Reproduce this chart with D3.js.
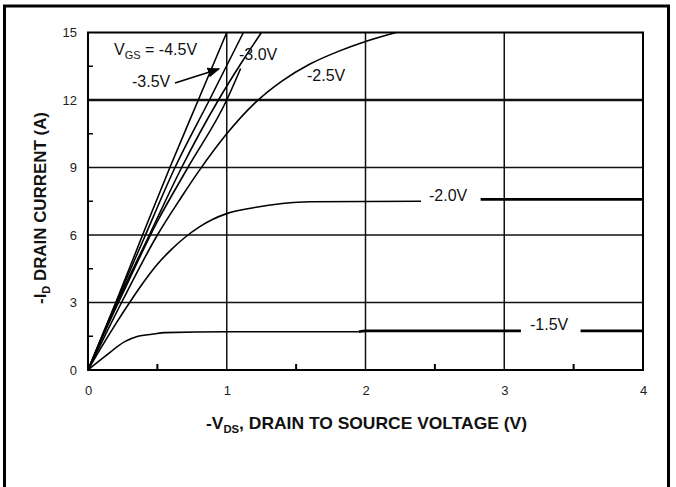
<!DOCTYPE html>
<html>
<head>
<meta charset="utf-8">
<script src="https://cdn.jsdelivr.net/npm/d3@7"></script>
<style>
  body { margin: 0; background: #fff; }
  svg { display: block; }
  .tick text { font-family: "Liberation Sans", Arial, sans-serif; font-size: 13px; fill: #222; }
  .lbl { font-family: "Liberation Sans", Arial, sans-serif; font-size: 16px; fill: #111; }
  .title { font-family: "Liberation Sans Narrow", "Arial Narrow", "Liberation Sans", sans-serif; font-weight: bold; font-size: 17px; fill: #111; }
</style>
</head>
<body>
<div id="chart"></div>
<script>
// data: -VDS (V) vs -ID (A), one array per gate voltage
const vgs45 = [[0,0],[0.1,1.5],[0.2,3.0],[0.4,6.1],[0.59,9],[0.795,12],[1.0,15]];
const vgs40 = [[0,0],[0.1,1.48],[0.2,2.95],[0.4,5.8],[0.627,9],[0.875,12],[1.12,15]];
const vgs35 = [[0,0],[0.1,1.45],[0.2,2.85],[0.45,6.1],[0.675,9],[0.94,12],[1.1,13.6],[1.25,15]];
const vgs30 = [[0,0],[0.1,1.4],[0.25,3.4],[0.5,6.6],[0.72,9],[1.0,12],[1.1,13.4]];
const vgs25 = [[0,0],[0.1,1.25],[0.25,3.1],[0.5,6.0],[0.675,7.7],[0.8,8.85],[1.0,10.5],[1.2,11.85],[1.4,12.85],[1.6,13.6],[1.8,14.15],[2.0,14.6],[2.22,15]];
const vgs20 = [[0,0],[0.1,1.05],[0.2,2.05],[0.3,3.0],[0.4,3.9],[0.5,4.7],[0.6,5.35],[0.7,5.9],[0.8,6.35],[0.9,6.7],[1.0,6.95],[1.2,7.22],[1.4,7.4],[1.6,7.48],[2.4,7.5]];
const vgs15 = [[0,0],[0.12,0.59],[0.265,1.26],[0.36,1.5],[0.46,1.59],[0.555,1.66],[1.0,1.7],[1.95,1.7]];
// flat tails drawn heavier, split where the label sits
const tail20 = [[2.83,7.58],[4,7.58]];
const tail15a = [[1.95,1.7],[2.0,1.74],[3.12,1.74]];
const tail15b = [[3.55,1.74],[4,1.74]];

const xTicks = [0, 1, 2, 3, 4];
const yTicks = [0, 3, 6, 9, 12, 15];
const xMinor = [0.5, 1.5, 2.5, 3.5];
const yMinor = [1.5, 4.5, 7.5, 10.5, 13.5];

const W = 676, H = 487;
const svg = d3.select("#chart").append("svg").attr("width", W).attr("height", H);

// outer frame (bottom edge falls outside the picture)
svg.append("rect").attr("x", 4.5).attr("y", 6).attr("width", 664).attr("height", 500)
  .attr("fill", "none").attr("stroke", "#000").attr("stroke-width", 3);

const x = d3.scaleLinear().domain([0, 4]).range([88, 643]);
const y = d3.scaleLinear().domain([0, 15]).range([370, 32.5]);

// grid
svg.append("g").selectAll("line").data([1, 2, 3]).join("line")
  .attr("x1", d => x(d)).attr("x2", d => x(d)).attr("y1", y(0)).attr("y2", y(15))
  .attr("stroke", "#111").attr("stroke-width", 1.5);
svg.append("g").selectAll("line").data([3, 6, 9, 12]).join("line")
  .attr("x1", x(0)).attr("x2", x(4)).attr("y1", d => y(d)).attr("y2", d => y(d))
  .attr("stroke", "#111").attr("stroke-width", d => d === 12 ? 2.6 : 1.6);

// minor ticks
svg.append("g").selectAll("line").data(xMinor).join("line")
  .attr("x1", d => x(d)).attr("x2", d => x(d)).attr("y1", y(0)).attr("y2", y(0) - 6)
  .attr("stroke", "#000").attr("stroke-width", 2);
svg.append("g").selectAll("line").data(yMinor).join("line")
  .attr("x1", x(0)).attr("x2", x(0) + 5).attr("y1", d => y(d)).attr("y2", d => y(d))
  .attr("stroke", "#000").attr("stroke-width", 1.5);

// tick labels
const xAxis = svg.append("g").attr("transform", `translate(0,${y(0)})`)
  .call(d3.axisBottom(x).tickValues(xTicks).tickSize(0).tickPadding(16).tickFormat(d3.format("d")));
xAxis.select(".domain").remove();
const yAxis = svg.append("g").attr("transform", `translate(${x(0)},0)`)
  .call(d3.axisLeft(y).tickValues(yTicks).tickSize(0).tickPadding(11).tickFormat(d3.format("d")));
yAxis.select(".domain").remove();

// plot frame
svg.append("rect").attr("x", x(0)).attr("y", y(15)).attr("width", x(4) - x(0)).attr("height", y(0) - y(15))
  .attr("fill", "none").attr("stroke", "#000").attr("stroke-width", 2);

// curves
svg.append("clipPath").attr("id", "clip").append("rect")
  .attr("x", x(0)).attr("y", y(15)).attr("width", x(4) - x(0)).attr("height", y(0) - y(15));
const line = d3.line().x(d => x(d[0])).y(d => y(d[1])).curve(d3.curveMonotoneX);
const curves = svg.append("g").attr("clip-path", "url(#clip)").attr("fill", "none").attr("stroke", "#000");
[vgs45, vgs40, vgs35, vgs30, vgs25, vgs20, vgs15].forEach(c => {
  curves.append("path").attr("d", line(c)).attr("stroke-width", 1.6);
});
[tail20, tail15a, tail15b].forEach(c => {
  curves.append("path").attr("d", line(c)).attr("stroke-width", 2.8);
});

// curve labels
const g = svg.append("g");
const vgsText = g.append("text").attr("class", "lbl").attr("x", 114).attr("y", 55);
vgsText.append("tspan").text("V");
vgsText.append("tspan").attr("font-size", 11).attr("dy", 4).text("GS");
vgsText.append("tspan").attr("dy", -4).text(" = -4.5V");
g.append("text").attr("class", "lbl").attr("x", 132).attr("y", 87).text("-3.5V");
g.append("text").attr("class", "lbl").attr("x", 239).attr("y", 60).text("-3.0V");
g.append("text").attr("class", "lbl").attr("x", 307).attr("y", 81).text("-2.5V");
g.append("text").attr("class", "lbl").attr("x", 429).attr("y", 201).text("-2.0V");
g.append("text").attr("class", "lbl").attr("x", 530).attr("y", 330).text("-1.5V");

// arrow to the -3.5V curve
svg.append("defs").append("marker").attr("id", "arr").attr("viewBox", "0 0 10 10")
  .attr("refX", 9).attr("refY", 5).attr("markerWidth", 7).attr("markerHeight", 7).attr("orient", "auto")
  .append("path").attr("d", "M0,1L10,5L0,9z").attr("fill", "#000");
svg.append("line").attr("x1", 175).attr("y1", 83).attr("x2", 219).attr("y2", 69)
  .attr("stroke", "#000").attr("stroke-width", 1.8).attr("marker-end", "url(#arr)");

// axis titles
const xt = svg.append("text").attr("class", "title").attr("x", 206).attr("y", 429);
xt.append("tspan").text("-V");
xt.append("tspan").attr("font-size", 11).attr("dy", 4).text("DS");
xt.append("tspan").attr("dy", -4).text(", DRAIN TO SOURCE VOLTAGE (V)");
xt.attr("textLength", 321).attr("lengthAdjust", "spacingAndGlyphs");

const yt = svg.append("text").attr("class", "title")
  .attr("transform", "translate(46,304) rotate(-90)");
yt.append("tspan").text("-I");
yt.append("tspan").attr("font-size", 11).attr("dy", 4).text("D");
yt.append("tspan").attr("dy", -4).text(" DRAIN CURRENT (A)");
yt.attr("textLength", 192).attr("lengthAdjust", "spacingAndGlyphs");
</script>
</body>
</html>
